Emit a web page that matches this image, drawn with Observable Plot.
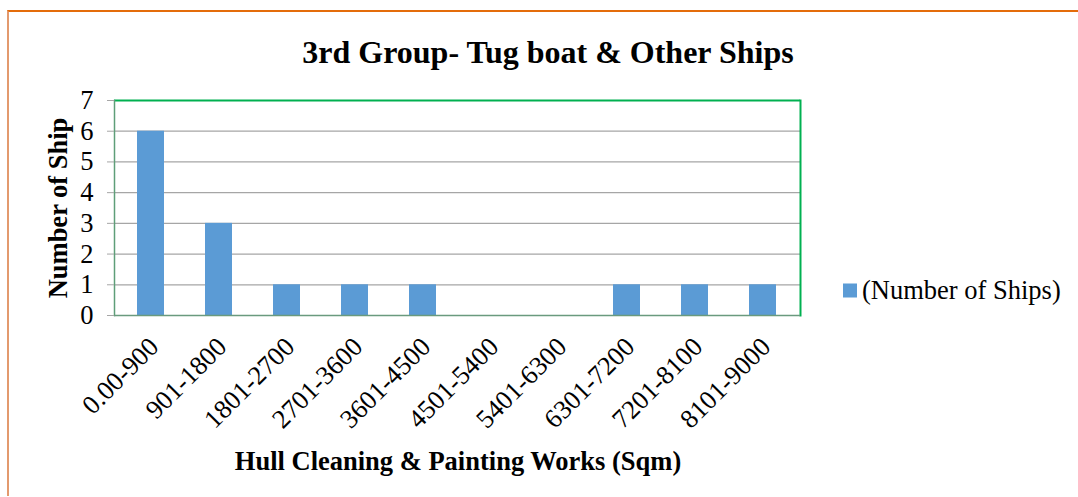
<!DOCTYPE html>
<html>
<head>
<meta charset="utf-8">
<script src="https://cdn.jsdelivr.net/npm/d3@7"></script>
<script src="https://cdn.jsdelivr.net/npm/@observablehq/plot@0.6"></script>
<style>
  body { margin: 0; background: #fff; }
  #wrap { position: relative; width: 1078px; height: 497px; overflow: hidden; font-family: "Liberation Serif", "Times New Roman", serif; }
  #border { position: absolute; left: 7px; top: 10px; width: 1100px; height: 486px; border-top: 2px solid #E46C0A; border-left: 2px solid #E39A6E; box-sizing: border-box; }
  .t { position: absolute; white-space: nowrap; color: #000; }
  #title { left: 548px; top: 52px; transform: translate(-50%, -50%); font-size: 32px; font-weight: bold; }
  #xtitle { left: 458px; top: 461px; transform: translate(-50%, -50%); font-size: 26.5px; font-weight: bold; }
  #ytitle { left: 58px; top: 208px; transform: translate(-50%, -50%) rotate(-90deg); font-size: 26.5px; font-weight: bold; }
  #legend { left: 843px; top: 290px; transform: translateY(-50%); font-size: 26.5px; display: flex; align-items: center; }
  #legend .sw { width: 14px; height: 14px; background: #5B9BD5; margin-right: 5px; }
  #chart { position: absolute; left: 0; top: 0; }
  #chart svg text { font-family: "Liberation Serif", "Times New Roman", serif !important; font-size: 26.5px !important; fill: #000; }
</style>
</head>
<body>
<div id="wrap">
  <div id="chart"></div>
  <div id="border"></div>
  <div class="t" id="title">3rd Group- Tug boat &amp; Other Ships</div>
  <div class="t" id="xtitle">Hull Cleaning &amp; Painting Works (Sqm)</div>
  <div class="t" id="ytitle">Number of Ship</div>
  <div class="t" id="legend"><span class="sw"></span><span>(Number of Ships)</span></div>
</div>
<script>
const categories = ["0.00-900","901-1800","1801-2700","2701-3600","3601-4500","4501-5400","5401-6300","6301-7200","7201-8100","8101-9000"];
const shipCounts = [6,3,1,1,1,0,0,1,1,1];
const yTicks = [0,1,2,3,4,5,6,7];
const seriesName = "(Number of Ships)";

const data = categories.map((c, i) => ({range: c, count: shipCounts[i]}));

const chart = Plot.plot({
  width: 1078,
  height: 497,
  marginLeft: 114,
  marginRight: 278,
  marginTop: 100,
  marginBottom: 182,
  style: {fontFamily: "'Liberation Serif', 'Times New Roman', serif", fontSize: "26.5px", color: "#000", background: "transparent"},
  x: {domain: categories, paddingInner: 0.6, paddingOuter: 0.3, label: null},
  y: {domain: [0, 7], label: null},
  marks: [
    Plot.ruleY(yTicks.filter(d => d > 0 && d < 7), {stroke: "#A6A6A6", strokeWidth: 1.3}),
    Plot.barY(data, {x: "range", y: "count", fill: "#5B9BD5", title: d => `${seriesName}: ${d.count}`}),
    Plot.ruleY([7], {stroke: "#00B050", strokeWidth: 2}),
    Plot.frame({anchor: "right", stroke: "#00B050", strokeWidth: 2}),
    Plot.frame({anchor: "left", stroke: "#5E9E78", strokeWidth: 1.5}),
    Plot.ruleY([0], {stroke: "#6A9A7E", strokeWidth: 1.5}),
    Plot.axisY({ticks: yTicks, tickSize: 7, tickPadding: 14, stroke: "#A6A6A6", label: null, fontSize: 26.5, tickFormat: d => d}),
    Plot.axisX({tickSize: 0, tickPadding: 14, tickRotate: -45, label: null, fontSize: 26.5, dx: 3, dy: 13})
  ]
});
document.getElementById("chart").appendChild(chart);
</script>
</body>
</html>
